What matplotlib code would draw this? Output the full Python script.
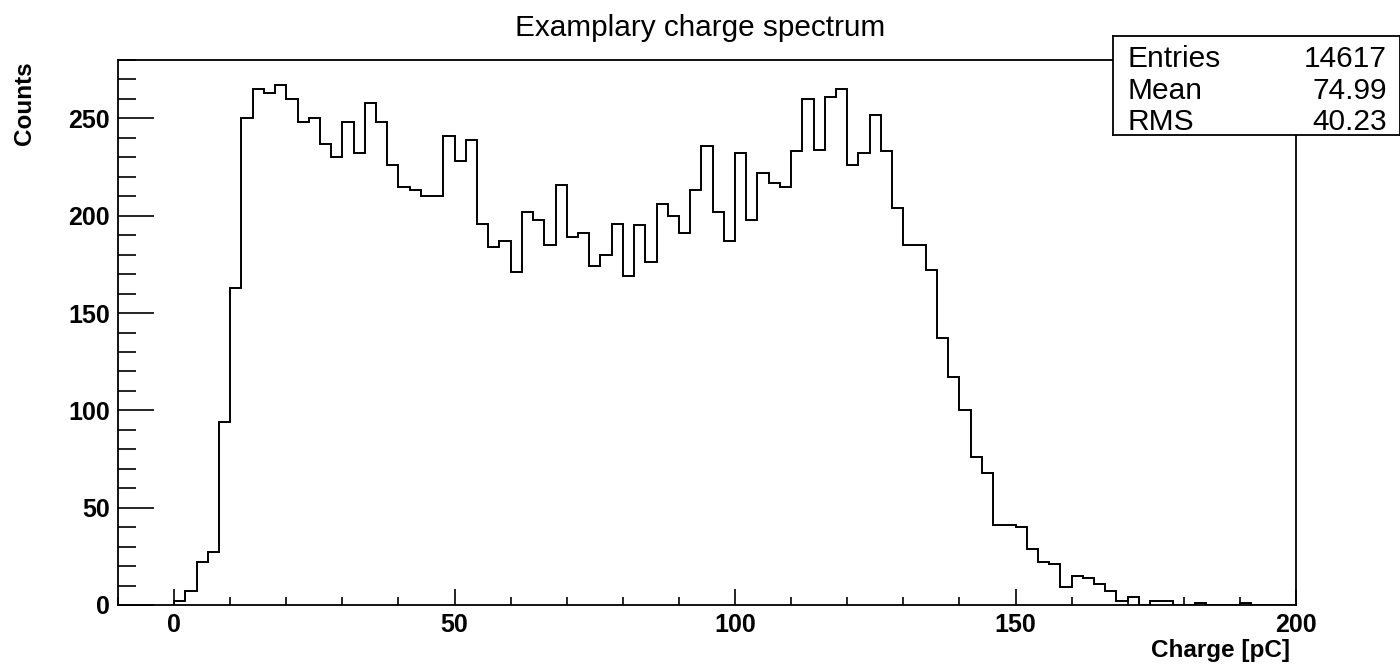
import matplotlib
matplotlib.use("Agg")
import matplotlib.pyplot as plt
import numpy as np
from matplotlib.ticker import MultipleLocator

plt.rcParams['font.family'] = ['Liberation Sans', 'DejaVu Sans']

# Histogram: 2 pC bins from 0 to 200
bin_edges = np.arange(0, 202, 2)
counts = [2, 7, 22, 27, 94, 163, 250, 265, 263, 267,
          260, 248, 250, 237, 230, 248, 232, 258, 248, 226,
          215, 213, 210, 210, 241, 228, 239, 196, 184, 187,
          171, 202, 198, 185, 216, 189, 191, 174, 180, 196,
          169, 195, 176, 206, 200, 191, 213, 236, 202, 187,
          232, 198, 222, 217, 215, 233, 260, 234, 261, 265,
          226, 232, 252, 233, 204, 185, 185, 172, 137, 117,
          100, 76, 68, 41, 41, 40, 29, 22, 21, 9,
          15, 14, 11, 7, 2, 4, 0, 2, 2, 0,
          0, 1, 0, 0, 0, 1, 0, 0, 0, 0]

stat_names = ["Entries", "Mean", "RMS"]
stat_values = ["14617", "74.99", "40.23"]

W, H = 1400, 665
fig = plt.figure(figsize=(W / 100, H / 100), dpi=100)

# main pad
ax = fig.add_axes([118 / W, (H - 605) / H, (1296 - 118) / W, 545 / H])
ax.stairs(counts, bin_edges, color='black', linewidth=1.4)
ax.set_xlim(-10, 200)
ax.set_ylim(0, 280)

ax.xaxis.set_major_locator(MultipleLocator(50))
ax.xaxis.set_minor_locator(MultipleLocator(10))
ax.yaxis.set_major_locator(MultipleLocator(50))
ax.yaxis.set_minor_locator(MultipleLocator(10))

ax.tick_params(axis='both', which='both', direction='in', top=False, right=False,
               width=1.2, labelsize=18)
ax.tick_params(axis='x', which='major', length=11.5, pad=6)
ax.tick_params(axis='x', which='minor', length=5.8)
ax.tick_params(axis='y', which='major', length=26, pad=6)
ax.tick_params(axis='y', which='minor', length=13)
for lab in ax.get_xticklabels() + ax.get_yticklabels():
    lab.set_fontweight('bold')
for sp in ax.spines.values():
    sp.set_linewidth(1.3)

fig.text(0.5, 1 - 28 / H, "Examplary charge spectrum", ha='center', va='center', fontsize=21.4)
fig.text(24 / W, 1 - 61 / H, "Counts", rotation=90, ha='center', va='top',
         fontsize=17.5, fontweight='bold')
fig.text(1290 / W, 1 - 650 / H, "Charge [pC]", ha='right', va='center',
         fontsize=17.5, fontweight='bold')

# stats box
box = fig.add_axes([1113 / W, (H - 135) / H, (1400 - 1113) / W, 99 / H])
box.set_xticks([])
box.set_yticks([])
box.set_facecolor('white')
for sp in box.spines.values():
    sp.set_linewidth(1.3)
row_y = [(135 - 59) / 99, (135 - 91) / 99, (135 - 122) / 99]
for name, val, yy in zip(stat_names, stat_values, row_y):
    box.text(0.052, yy, name, ha='left', va='center', fontsize=21.5, transform=box.transAxes)
    box.text(0.955, yy, val, ha='right', va='center', fontsize=21.5, transform=box.transAxes)

fig.savefig("out.png", dpi=100)
